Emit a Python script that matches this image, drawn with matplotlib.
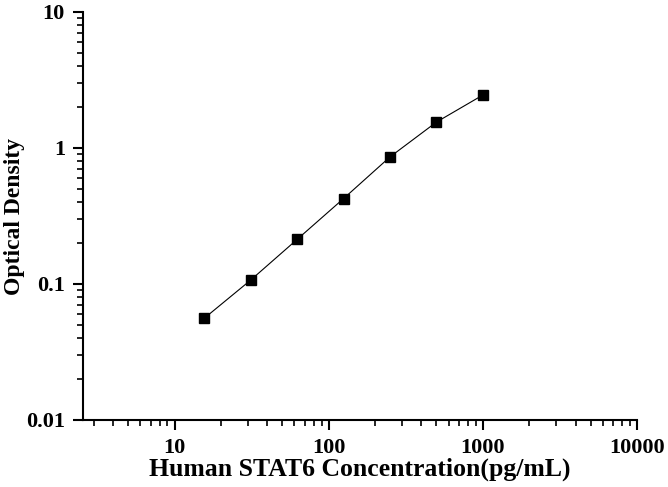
import matplotlib
matplotlib.use("Agg")
import matplotlib.pyplot as plt
from matplotlib.ticker import LogLocator, FixedLocator, FixedFormatter

conc = [15.6, 31.25, 62.5, 125, 250, 500, 1000]
od = [0.056, 0.107, 0.213, 0.425, 0.86, 1.55, 2.45]

x_ticks = [10, 100, 1000, 10000]
x_labels = ["10", "100", "1000", "10000"]
y_ticks = [0.01, 0.1, 1, 10]
y_labels = ["0.01", "0.1", "1", "10"]

plt.rcParams['font.family'] = ['Liberation Serif', 'DejaVu Serif']
plt.rcParams['font.weight'] = 'bold'

fig = plt.figure(figsize=(6.68, 4.87), dpi=100)
ax = fig.add_axes([0.1243, 0.1376, 0.8293, 0.8378])

ax.plot(conc, od, color="black", lw=0.8, marker="s", markersize=7)

ax.set_xscale("log")
ax.set_yscale("log")
ax.set_xlim(2.55, 10000)
ax.set_ylim(0.01, 10)

ax.xaxis.set_major_locator(FixedLocator(x_ticks))
ax.xaxis.set_major_formatter(FixedFormatter(x_labels))
ax.yaxis.set_major_locator(FixedLocator(y_ticks))
ax.yaxis.set_major_formatter(FixedFormatter(y_labels))
ax.xaxis.set_minor_locator(LogLocator(base=10, subs=range(2, 10)))
ax.yaxis.set_minor_locator(LogLocator(base=10, subs=range(2, 10)))
ax.xaxis.set_minor_formatter(plt.NullFormatter())
ax.yaxis.set_minor_formatter(plt.NullFormatter())

ax.spines["top"].set_visible(False)
ax.spines["right"].set_visible(False)
for s in ("left", "bottom"):
    ax.spines[s].set_linewidth(1.5)

ax.tick_params(which="major", direction="out", length=7, width=1.5, labelsize=16, pad=6)
ax.tick_params(which="minor", direction="out", length=4, width=1.2)

ax.set_xlabel("Human STAT6 Concentration(pg/mL)", fontsize=18.5, fontweight="bold", labelpad=0)
ax.set_ylabel("Optical Density", fontsize=17, fontweight="bold")
ax.yaxis.set_label_coords(-0.105, 0.5)

fig.savefig("out.png", dpi=100)
